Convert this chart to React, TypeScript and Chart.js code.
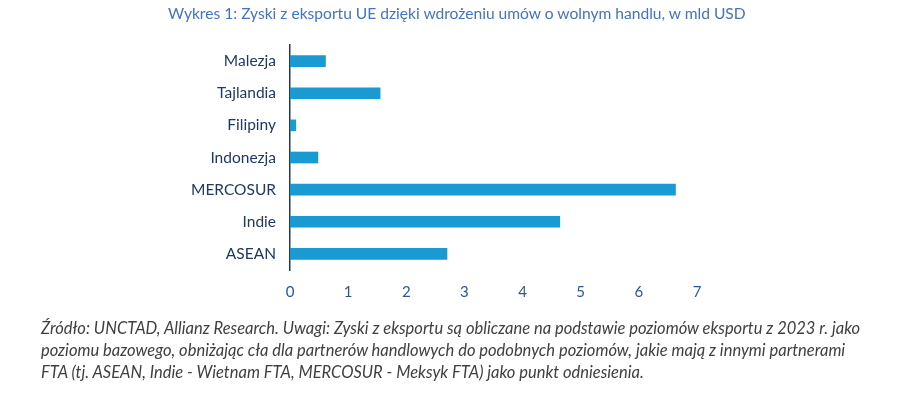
import React, { useEffect, useRef } from "react";
import { Chart, registerables } from "chart.js";

Chart.register(...registerables);

const categories = ["Malezja", "Tajlandia", "Filipiny", "Indonezja", "MERCOSUR", "Indie", "ASEAN"];
const gains = [0.61, 1.55, 0.1, 0.48, 6.63, 4.64, 2.7];
const xTicks = [0, 1, 2, 3, 4, 5, 6, 7];

const titleText = "Wykres 1: Zyski z eksportu UE dzięki wdrożeniu umów o wolnym handlu, w mld USD";
const noteLines = [
  "Źródło: UNCTAD, Allianz Research. Uwagi: Zyski z eksportu są obliczane na podstawie poziomów eksportu z 2023 r. jako",
  "poziomu bazowego, obniżając cła dla partnerów handlowych do podobnych poziomów, jakie mają z innymi partnerami",
  "FTA (tj. ASEAN, Indie - Wietnam FTA, MERCOSUR - Meksyk FTA) jako punkt odniesienia.",
];

const FONT = "Lato, 'Open Sans', sans-serif";

export default function App() {
  const ref = useRef<HTMLCanvasElement | null>(null);
  useEffect(() => {
    if (!ref.current) return;
    const chart = new Chart(ref.current, {
      type: "bar",
      data: {
        labels: categories,
        datasets: [
          {
            data: gains,
            backgroundColor: "#1a9ad3",
            barThickness: 11,
          },
        ],
      },
      options: {
        indexAxis: "y",
        animation: false,
        responsive: false,
        maintainAspectRatio: false,
        layout: { padding: { left: 0, right: 203, top: 45, bottom: 98 } },
        plugins: { legend: { display: false }, tooltip: { enabled: false }, title: { display: false } },
        scales: {
          x: {
            min: 0,
            max: 7,
            afterFit: (s: any) => {
              s.height = 30;
            },
            afterBuildTicks: (s: any) => {
              s.ticks = xTicks.map((v) => ({ value: v }));
            },
            grid: { display: false, drawTicks: false },
            border: { display: false },
            ticks: { color: "#2f5597", font: { family: FONT, size: 15 }, padding: 13 },
          },
          y: {
            afterFit: (s: any) => {
              s.width = 290;
            },
            grid: { display: false, drawTicks: false },
            border: { display: true, color: "#1f3864", width: 1.5 },
            ticks: { color: "#1f3864", font: { family: FONT, size: 15.5 }, padding: 14 },
          },
        },
      },
    });
    return () => chart.destroy();
  }, []);

  return (
    <div style={{ position: "absolute", left: 0, top: 0, width: 900, height: 398, background: "#fff", overflow: "hidden" }}>
      <canvas ref={ref} width={900} height={398} style={{ position: "absolute", left: 0, top: 0 }} />
      <div
        style={{
          position: "absolute",
          left: 168,
          top: 4,
          fontFamily: FONT,
          fontSize: 15.6,
          color: "#4472c4",
          whiteSpace: "nowrap",
        }}
      >
        {titleText}
      </div>
      <div
        style={{
          position: "absolute",
          left: 41,
          top: 316.5,
          fontFamily: FONT,
          fontStyle: "italic",
          fontSize: 16.5,
          lineHeight: "22.3px",
          color: "#404040",
          whiteSpace: "nowrap",
        }}
      >
        {noteLines.map((l, i) => (
          <div key={i}>{l}</div>
        ))}
      </div>
    </div>
  );
}
